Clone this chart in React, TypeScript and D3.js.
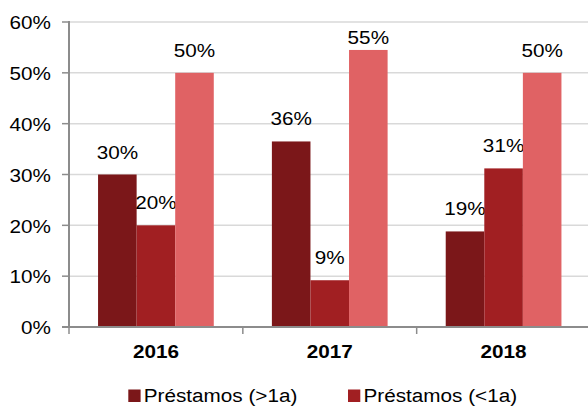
import React from "react";
import * as d3 from "d3";

const categories = ["2016", "2017", "2018"];
const seriesNames = ["Préstamos (>1a)", "Préstamos (<1a)", "Otros"];
const seriesA = [30, 36.5, 18.8];
const seriesB = [20, 9.2, 31.2];
const seriesC = [50, 54.5, 50];
const labelsA = ["30%", "36%", "19%"];
const labelsB = ["20%", "9%", "31%"];
const labelsC = ["50%", "55%", "50%"];
const yTicks = [0, 10, 20, 30, 40, 50, 60];
const colors = ["#7B1719", "#A11F22", "#E06264"];

const SX = 1.09;
const FS = 19;

function T(props: { x: number; y: number; anchor?: string; bold?: boolean; children: React.ReactNode }) {
  return (
    <text
      transform={`translate(${props.x},${props.y}) scale(${SX},1)`}
      textAnchor={props.anchor || "start"}
      fontSize={FS}
      fontWeight={props.bold ? "bold" : "normal"}
      fill="#000"
    >
      {props.children}
    </text>
  );
}

export default function App() {
  const W = 588, H = 406;
  const left = 69, right = 590.5, top = 22, bottom = 327;
  const x = d3.scaleBand<string>().domain(categories).range([left, right]).paddingInner(0).paddingOuter(0);
  const y = d3.scaleLinear().domain([0, 60]).range([bottom, top]);
  const groupW = x.bandwidth() * (115.7 / 173.8);
  const barW = groupW / 3;
  const series = [seriesA, seriesB, seriesC];
  const labels = [labelsA, labelsB, labelsC];
  const font = "'Liberation Sans', Arial, sans-serif";
  const catTicks = [...categories.map((c) => x(c)!), right];

  return (
    <svg width={W} height={H} style={{ position: "absolute", left: 0, top: 0, background: "#fff" }} fontFamily={font}>
      {yTicks.map((t) => (
        <g key={t}>
          {t > 0 && <line x1={left} x2={W} y1={y(t)} y2={y(t)} stroke="#D9D9D9" strokeWidth={1.5} />}
          <line x1={left - 7} x2={left} y1={y(t)} y2={y(t)} stroke="#8C8C8C" strokeWidth={1.5} />
          <T x={51} y={y(t) + 7.3} anchor="end">{t}%</T>
        </g>
      ))}
      {series.map((s, si) =>
        categories.map((c, ci) => {
          const cx = x(c)! + x.bandwidth() / 2 - groupW / 2 + si * barW;
          const yt = y(s[ci]);
          const ly = Math.max(yt - 16, 44);
          return (
            <g key={si + "-" + ci}>
              <rect x={cx} y={yt} width={barW} height={bottom - yt} fill={colors[si]} />
              <T x={cx + barW / 2} y={ly} anchor="middle">{labels[si][ci]}</T>
            </g>
          );
        })
      )}
      <line x1={left} x2={left} y1={top - 1} y2={bottom} stroke="#8C8C8C" strokeWidth={2} />
      <line x1={left - 7} x2={W} y1={bottom} y2={bottom} stroke="#8C8C8C" strokeWidth={2} />
      {catTicks.map((t, i) => (
        <line key={i} x1={t} x2={t} y1={bottom} y2={bottom + 7} stroke="#8C8C8C" strokeWidth={1.5} />
      ))}
      {categories.map((c) => (
        <T key={c} x={x(c)! + x.bandwidth() / 2} y={357.7} anchor="middle" bold>{c}</T>
      ))}
      {seriesNames.slice(0, 2).map((n, i) => {
        const lx = [128.3, 348][i];
        return (
          <g key={n}>
            <rect x={lx} y={389.5} width={12.3} height={12.5} fill={colors[i]} />
            <T x={lx + 15.5} y={402}>{n}</T>
          </g>
        );
      })}
    </svg>
  );
}
